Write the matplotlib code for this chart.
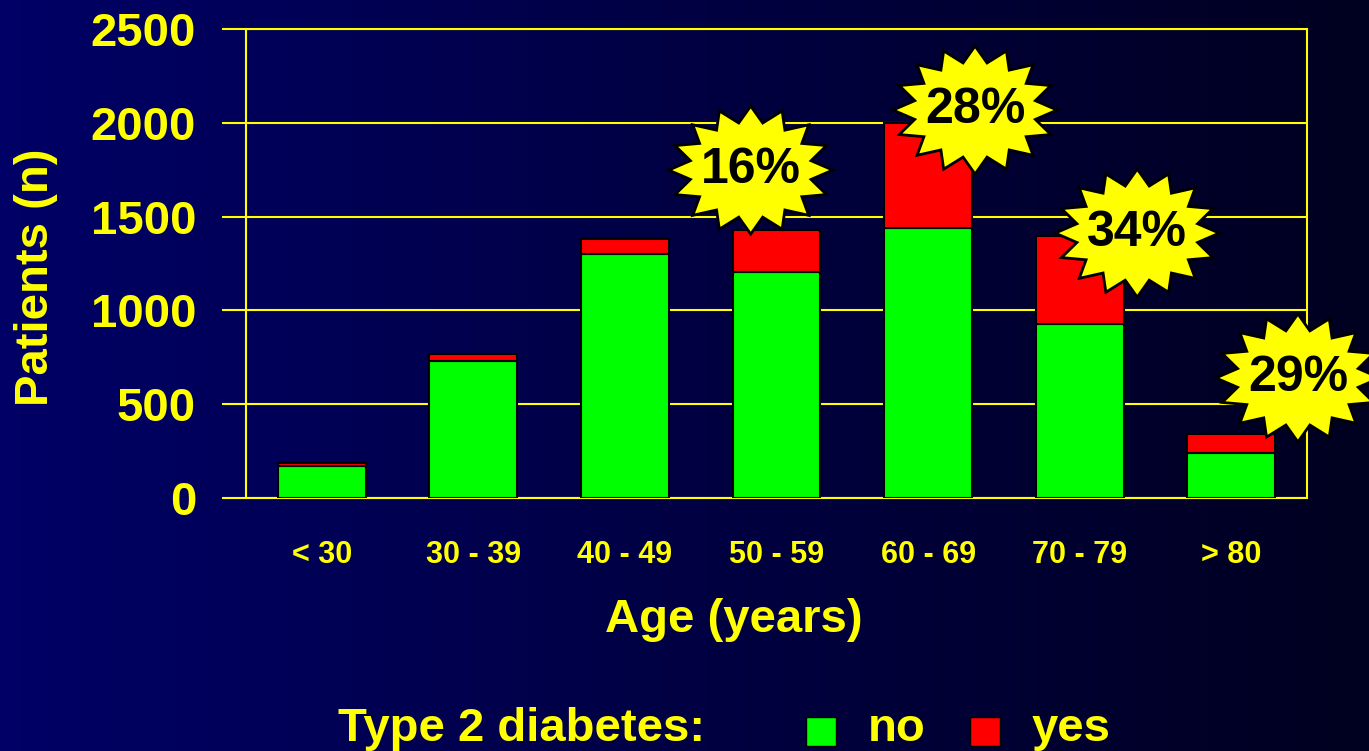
import numpy as np
import matplotlib
matplotlib.use('Agg')
import matplotlib.pyplot as plt
from matplotlib.patches import Polygon, Rectangle
from matplotlib.transforms import Affine2D, ScaledTranslation

# data
age_groups = ['< 30', '30 - 39', '40 - 49', '50 - 59', '60 - 69', '70 - 79', '> 80']
no_diabetes = [170, 730, 1300, 1205, 1440, 925, 240]
yes_diabetes = [15, 40, 80, 225, 560, 470, 100]

# percentage badges: group index, label, offset from bar top (categories, patients)
badge_groups = [3, 4, 5, 6]
badge_labels = ['16%', '28%', '34%', '29%']
badge_offsets = [(-0.17, 318), (0.31, 68), (0.38, 17), (0.44, 300)]

YELLOW = '#ffff00'
GREEN = '#00ff00'
RED = '#ff0000'

plt.rcParams['font.family'] = ['Liberation Sans', 'DejaVu Sans']
plt.rcParams['font.weight'] = 'bold'

W, H = 1369, 751
fig = plt.figure(figsize=(W / 100, H / 100), dpi=100)

# dark blue gradient background, lighter on the left
bg = fig.add_axes([0, 0, 1, 1], zorder=-10)
grad = np.linspace(0, 1, 256)
left = np.array([0, 0, 102]) / 255
right = np.array([0, 0, 32]) / 255
cols = left[None, :] * (1 - grad[:, None]) + right[None, :] * grad[:, None]
bg.imshow(cols[None, :, :], aspect='auto', extent=[0, 1, 0, 1])
bg.axis('off')

ax = fig.add_axes([246 / W, (H - 498) / H, (1307 - 246) / W, (498 - 29) / H])
ax.set_facecolor('none')

x = np.arange(len(age_groups))
ax.bar(x, no_diabetes, width=0.58, color=GREEN, edgecolor='black', linewidth=1.5, zorder=3)
ax.bar(x, yes_diabetes, width=0.58, bottom=no_diabetes, color=RED,
       edgecolor='black', linewidth=1.5, zorder=3)

ax.set_xlim(-0.5, 6.5)
ax.set_ylim(0, 2500)
ax.set_yticks(range(0, 2501, 500))
ax.set_xticks(x)
ax.set_xticklabels(age_groups)
ax.yaxis.grid(True, color=YELLOW, linewidth=1.5)
ax.set_axisbelow(True)
for s in ax.spines.values():
    s.set_color(YELLOW)
    s.set_linewidth(1.5)
ax.tick_params(axis='y', length=17, width=1.5, color=YELLOW, pad=19,
               labelsize=34, labelcolor=YELLOW)
ax.tick_params(axis='x', length=0, pad=30, labelsize=22, labelcolor=YELLOW)

ax.set_xlabel('Age (years)', fontsize=34, color=YELLOW, fontweight='bold', va='center')
ax.xaxis.set_label_coords(0.46, -0.26)
ax.set_ylabel('Patients (n)', fontsize=34, color=YELLOW, fontweight='bold', va='center')
ax.yaxis.set_label_coords(-0.1975, 0.471)


def star_vertices(n=16, rx=82, ry=64, inner=0.75):
    ang = np.linspace(0, 2 * np.pi, 2 * n, endpoint=False) + np.pi / 2
    r = np.where(np.arange(2 * n) % 2 == 0, 1.0, inner)
    return np.column_stack([rx * r * np.cos(ang), ry * r * np.sin(ang)])


totals = [a + b for a, b in zip(no_diabetes, yes_diabetes)]
for g, lab, (dx, dy) in zip(badge_groups, badge_labels, badge_offsets):
    bx, by = x[g] + dx, totals[g] + dy
    tr = Affine2D() + ScaledTranslation(bx, by, ax.transData)
    star = Polygon(star_vertices(), closed=True, facecolor=YELLOW, edgecolor='black',
                   linewidth=2, joinstyle='miter', transform=tr, clip_on=False, zorder=5)
    ax.add_patch(star)
    ax.text(bx, by, lab, ha='center', va='center', fontsize=36, fontweight='bold',
            color='black', zorder=6, clip_on=False)

# legend row at the bottom
ly = 729
fig.text(338 / W, (H - ly) / H, 'Type 2 diabetes:', fontsize=34, color=YELLOW,
         fontweight='bold', ha='left', va='center')
for px, colr, lab in [(806, GREEN, 'no'), (970, RED, 'yes')]:
    fig.add_artist(Rectangle((px / W, (H - 746) / H), 30 / W, 29 / H, facecolor=colr,
                             edgecolor='black', linewidth=1, transform=fig.transFigure))
    fig.text((px + 62) / W, (H - ly) / H, lab, fontsize=34, color=YELLOW,
             fontweight='bold', ha='left', va='center')

fig.savefig('out.png', dpi=100)
